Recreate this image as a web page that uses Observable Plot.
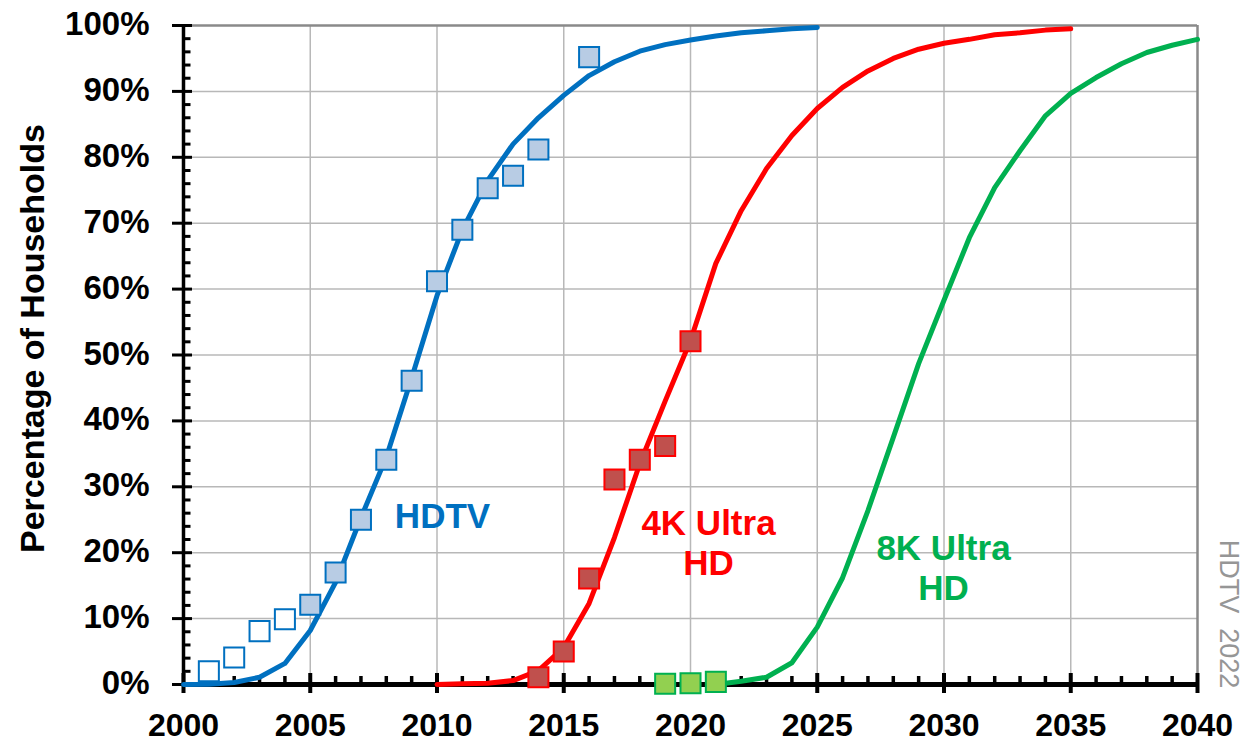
<!DOCTYPE html>
<html>
<head>
<meta charset="utf-8">
<script src="https://cdn.jsdelivr.net/npm/d3@7"></script>
<script src="https://cdn.jsdelivr.net/npm/@observablehq/plot@0.6"></script>
<style>
  html, body { margin: 0; padding: 0; background: #fff; }
  svg { overflow: visible; }
</style>
</head>
<body>
<div id="chart"></div>
<script>
// ---- Data ----
const hdtvLineYears  = [2000,2001,2002,2003,2004,2005,2006,2007,2008,2009,2010,2011,2012,2013,2014,2015,2016,2017,2018,2019,2020,2021,2022,2023,2024,2025];
const hdtvLineValues = [0,0.05,0.3,1.1,3.2,8.2,15.5,25.3,34.5,46.5,59,69,76.5,82,86,89.4,92.4,94.5,96.1,97.1,97.8,98.4,98.9,99.2,99.5,99.7];

const fourKLineYears  = [2010,2011,2012,2013,2014,2015,2016,2017,2018,2019,2020,2021,2022,2023,2024,2025,2026,2027,2028,2029,2030,2031,2032,2033,2034,2035];
const fourKLineValues = [0,0.1,0.2,0.6,2.1,5.6,12.3,22.3,33.5,43,52.2,63.9,71.9,78.3,83.3,87.4,90.6,93.1,95,96.4,97.3,97.9,98.6,98.9,99.3,99.5];

const eightKLineYears  = [2021,2022,2023,2024,2025,2026,2027,2028,2029,2030,2031,2032,2033,2034,2035,2036,2037,2038,2039,2040];
const eightKLineValues = [0,0.5,1.1,3.3,8.7,16.2,26.4,37.5,48.7,58.3,67.8,75.4,81,86.3,89.7,92.1,94.2,95.9,97,97.9];

// observed points
const hdtvEarlyYears  = [2001,2002,2003,2004];          // open squares
const hdtvEarlyValues = [2,4.1,8.1,9.9];
const hdtvObsYears    = [2005,2006,2007,2008,2009,2010,2011,2012,2013,2014,2016];
const hdtvObsValues   = [12.1,17,25,34.1,46.1,61.2,69,75.3,77.2,81.2,95.2];

const fourKObsYears  = [2014,2015,2016,2017,2018,2019,2020];
const fourKObsValues = [1.1,5,16.1,31.1,34.1,36.2,52.1];

const eightKObsYears  = [2019,2020,2021];
const eightKObsValues = [0.1,0.2,0.4];

// axes
const xMajorTicks = [2000,2005,2010,2015,2020,2025,2030,2035,2040];
const xGridTicks  = [2005,2010,2015,2020,2025,2030,2035];
const xMinorTicks = d3.range(2000, 2041).filter(d => d % 5 !== 0);
const yMajorTicks = [0,10,20,30,40,50,60,70,80,90,100];
const yGridTicks  = [10,20,30,40,50,60,70,80,90];
const yMinorTicks = d3.range(0, 101, 2).filter(d => d % 10 !== 0);

const yTitle = "Percentage of Households";
const watermark = "HDTV\u00a0\u00a02022";

// ---- Layout ----
const W = 1243, H = 742;
const mL = 183, mR = 46, mT = 25, mB = 58;
const ppx = (W - mL - mR) / 40;   // px per year
const ppy = (H - mT - mB) / 100;  // px per percent

const pts = (xs, ys) => xs.map((x, i) => ({x, y: ys[i]}));
const FONT = "'Liberation Sans', Arial, Helvetica, sans-serif";

const blue = "#0070C0", red = "#FF0000", green = "#00B050";
const gridColor = "#b8b8b8", borderColor = "#8a8a8a";

const R = 11.3;

const chart = Plot.plot({
  width: W, height: H,
  marginLeft: mL, marginRight: mR, marginTop: mT, marginBottom: mB,
  x: {domain: [2000, 2040], axis: null},
  y: {domain: [0, 100], axis: null},
  style: {fontFamily: FONT, background: "white", overflow: "visible"},
  marks: [
    // grid
    Plot.ruleY(yGridTicks, {y: d => d, x1: 2000, x2: 2040, stroke: gridColor, strokeWidth: 1.5}),
    Plot.ruleX(xGridTicks, {x: d => d, y1: 0, y2: 100, stroke: gridColor, strokeWidth: 1.5}),
    // frame borders (top, right)
    Plot.ruleY([100], {y: d => d, x1: 2000, x2: 2040, stroke: borderColor, strokeWidth: 2.5}),
    Plot.ruleX([2040], {x: d => d, y1: 0, y2: 100, stroke: borderColor, strokeWidth: 2.5}),
    // y axis
    Plot.ruleX([2000], {x: d => d, y1: 0, y2: 100, stroke: "black", strokeWidth: 3.5}),
    Plot.ruleY(yMinorTicks, {y: d => d, x1: 2000, x2: 2000 + 7.5 / ppx, stroke: "black", strokeWidth: 3}),
    Plot.ruleY(yMajorTicks, {y: d => d, x1: 2000 - 11 / ppx, x2: 2000 + 9 / ppx, stroke: "black", strokeWidth: 3}),
    // x axis
    Plot.ruleY([0], {y: d => d, x1: 2000, x2: 2040, stroke: "black", strokeWidth: 5}),
    Plot.ruleX(xMinorTicks, {x: d => d, y1: 0, y2: 8 / ppy, stroke: "black", strokeWidth: 3.5}),
    Plot.ruleX(xMajorTicks, {x: d => d, y1: -9 / ppy, y2: 11 / ppy, stroke: "black", strokeWidth: 4}),
    // tick labels
    Plot.text(yMajorTicks, {x: 2000, y: d => d, text: d => d + "%", dx: -34, dy: -1, textAnchor: "end",
      fontSize: 33, fontWeight: "bold", fill: "black"}),
    Plot.text(xMajorTicks, {x: d => d, y: 0, text: d => String(d), dy: 41,
      fontSize: 32, fontWeight: "bold", fill: "black"}),
    // y title
    Plot.text([yTitle], {x: 2000 - (mL - 33) / ppx, y: 52.5, text: d => d, rotate: -90,
      fontSize: 34, fontWeight: "bold", fill: "black"}),
    // curves
    Plot.line(pts(hdtvLineYears, hdtvLineValues), {x: "x", y: "y", stroke: blue, strokeWidth: 5, strokeLinecap: "round", strokeLinejoin: "round"}),
    Plot.line(pts(fourKLineYears, fourKLineValues), {x: "x", y: "y", stroke: red, strokeWidth: 5, strokeLinecap: "round", strokeLinejoin: "round"}),
    Plot.line(pts(eightKLineYears, eightKLineValues), {x: "x", y: "y", stroke: green, strokeWidth: 5, strokeLinecap: "round", strokeLinejoin: "round"}),
    // observed squares
    Plot.dot(pts(hdtvEarlyYears, hdtvEarlyValues), {x: "x", y: "y", symbol: "square", r: R, fill: "white", stroke: blue, strokeWidth: 2}),
    Plot.dot(pts(hdtvObsYears, hdtvObsValues), {x: "x", y: "y", symbol: "square", r: R, fill: "#B8CCE4", stroke: blue, strokeWidth: 2}),
    Plot.dot(pts(fourKObsYears, fourKObsValues), {x: "x", y: "y", symbol: "square", r: R, fill: "#C0504D", stroke: red, strokeWidth: 2}),
    Plot.dot(pts(eightKObsYears, eightKObsValues), {x: "x", y: "y", symbol: "square", r: R, fill: "#92D050", stroke: green, strokeWidth: 2}),
    // series labels
    Plot.text(["HDTV"], {x: 2000 + (442 - mL) / ppx, y: 25.4, text: d => d, fontSize: 35, fontWeight: "bold", fill: blue}),
    Plot.text(["4K Ultra\nHD"], {x: 2000 + (708 - mL) / ppx, y: 21.6, text: d => d, fontSize: 35, fontWeight: "bold", fill: red, lineHeight: 1.14}),
    Plot.text(["8K Ultra\nHD"], {x: 2000 + (943 - mL) / ppx, y: 17.8, text: d => d, fontSize: 35, fontWeight: "bold", fill: green, lineHeight: 1.14}),
    // watermark
    Plot.text([watermark], {x: 2000 + (1228 - mL) / ppx, y: (684 - 613.5) / ppy, text: d => d, rotate: 90,
      fontSize: 27, fill: "#969696"})
  ]
});

document.getElementById("chart").appendChild(chart);
</script>
</body>
</html>
